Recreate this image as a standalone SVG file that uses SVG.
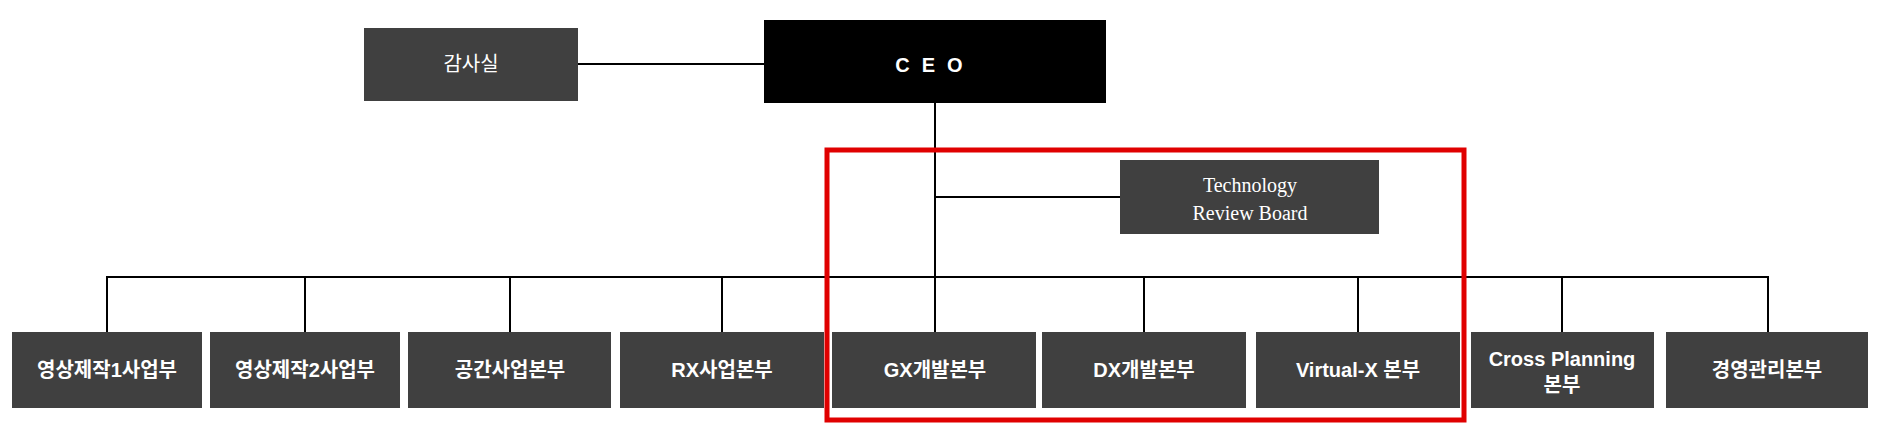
<svg xmlns="http://www.w3.org/2000/svg" width="1877" height="430" viewBox="0 0 1877 430">
<style>
.b{fill:#404040}
.t{fill:#fff;font-family:"Liberation Sans","Noto Sans CJK KR",sans-serif;font-weight:bold;font-size:20px;text-anchor:middle}
.s{fill:#fff;font-family:"Liberation Serif","Noto Sans CJK KR",serif;font-size:20px;text-anchor:middle}
.l{stroke:#000;stroke-width:2;fill:none}
</style>
<rect width="1877" height="430" fill="#fff"/>
<g id="connectors">
<line class="l" x1="578" y1="64" x2="764" y2="64" stroke-width="3"/>
<line class="l" x1="935" y1="103" x2="935" y2="332"/>
<line class="l" x1="935" y1="197" x2="1120" y2="197" stroke-width="3"/>
<line class="l" x1="106" y1="277" x2="1769" y2="277" stroke-width="3"/>
<path class="l" d="M107 277V332M305 277V332M510 277V332M722 277V332M1144 277V332M1358 277V332M1562 277V332M1768 277V332"/>
</g>
<g id="audit"><rect class="b" x="364" y="28" width="214" height="73"/><text class="s" x="471" y="71" font-size="22">감사실</text></g>
<g id="ceo"><rect fill="#000" x="764" y="20" width="342" height="83"/><text class="t" x="935" y="72" font-size="26" letter-spacing="12">CEO</text></g>
<g id="trb"><rect class="b" x="1120" y="160" width="259" height="74"/><text class="s" x="1250" y="192">Technology</text><text class="s" x="1250" y="220">Review Board</text></g>
<g id="n1"><rect class="b" x="12" y="332" width="190" height="76"/><text class="t" x="107" y="377">영상제작1사업부</text></g>
<g id="n2"><rect class="b" x="210" y="332" width="190" height="76"/><text class="t" x="305" y="377">영상제작2사업부</text></g>
<g id="n3"><rect class="b" x="408" y="332" width="203" height="76"/><text class="t" x="510" y="377">공간사업본부</text></g>
<g id="n4"><rect class="b" x="620" y="332" width="204" height="76"/><text class="t" x="722" y="377">RX사업본부</text></g>
<g id="n5"><rect class="b" x="832" y="332" width="204" height="76"/><text class="t" x="935" y="377">GX개발본부</text></g>
<g id="n6"><rect class="b" x="1042" y="332" width="204" height="76"/><text class="t" x="1144" y="377">DX개발본부</text></g>
<g id="n7"><rect class="b" x="1256" y="332" width="204" height="76"/><text class="t" x="1358" y="377">Virtual-X 본부</text></g>
<g id="n8"><rect class="b" x="1471" y="332" width="183" height="76"/><text class="t" x="1562" y="366">Cross Planning</text><text class="t" x="1562" y="392">본부</text></g>
<g id="n9"><rect class="b" x="1666" y="332" width="202" height="76"/><text class="t" x="1767" y="377">경영관리본부</text></g>
<rect id="highlight" x="827" y="150" width="637" height="270" fill="none" stroke="#e00000" stroke-width="5"/>
</svg>
